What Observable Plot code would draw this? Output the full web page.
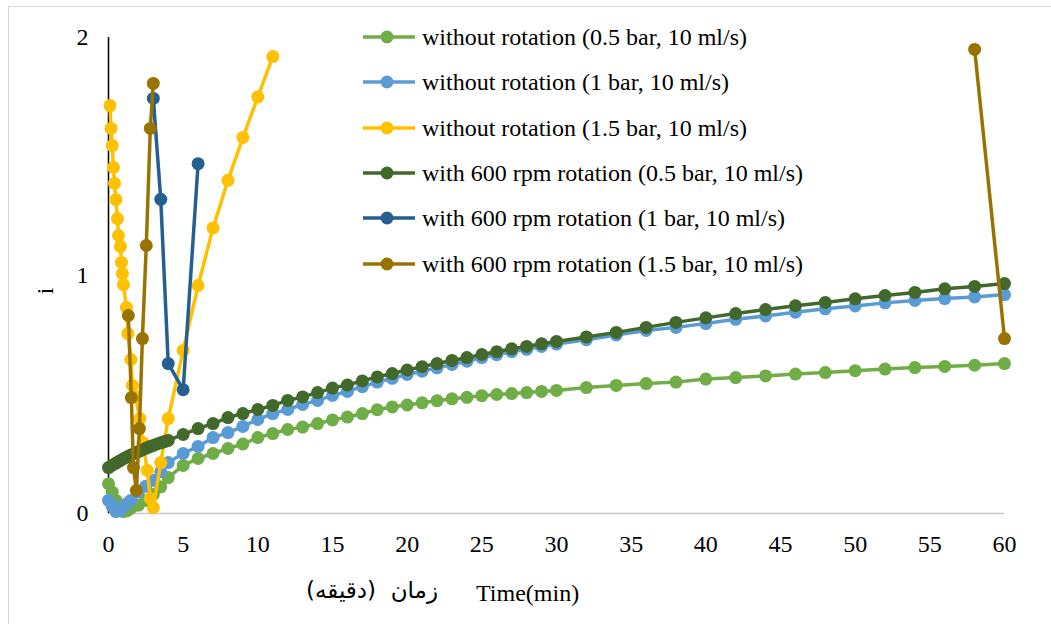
<!DOCTYPE html>
<html>
<head>
<meta charset="utf-8">
<script src="https://cdn.jsdelivr.net/npm/d3@7"></script>
<script src="https://cdn.jsdelivr.net/npm/@observablehq/plot@0.6"></script>
<style>
  html, body { margin: 0; padding: 0; background: #fff; }
  #wrap { position: relative; width: 1051px; height: 624px; overflow: hidden; font-family: "Liberation Serif", "Times New Roman", serif; color: #000; }
  #border { position: absolute; left: 8px; top: 6px; width: 1100px; height: 700px; border: 1.5px solid #d9d9d9; box-sizing: border-box; }
  #legend { position: absolute; left: 360px; top: 0; }
  .lg { position: absolute; left: 0; height: 30px; white-space: nowrap; font-size: 24px; line-height: 30px; }
  .lg svg { position: absolute; left: 0; top: 0; }
  .lg span { position: absolute; left: 62px; top: 0; }
  .lbl { position: absolute; white-space: nowrap; font-size: 24px; line-height: 30px; }
</style>
</head>
<body>
<div id="wrap">
  <div id="border"></div>
  <div id="chart"></div>
  <div id="legend"></div>
  <div class="lbl" style="left:476px; top:578px;">Time(min)</div>
  <div class="lbl" style="left:296px; top:575px; direction:rtl; unicode-bidi:isolate; font-family:'DejaVu Sans', sans-serif; font-size:23px; width:152px; text-align:center;">زمان&nbsp;&nbsp;(دقیقه)</div>
  <div class="lbl" style="left:30px; top:276px; transform: rotate(-90deg); transform-origin: 50% 50%; width:30px; text-align:center;">i</div>
</div>
<script>
// ---- Data ----
const seriesNames = [
  "without rotation (0.5 bar, 10 ml/s)",
  "without rotation (1 bar, 10 ml/s)",
  "without rotation (1.5 bar, 10 ml/s)",
  "with 600 rpm rotation (0.5 bar, 10 ml/s)",
  "with 600 rpm rotation (1 bar, 10 ml/s)",
  "with 600 rpm rotation (1.5 bar, 10 ml/s)"
];
const seriesColors = ["#70ad47", "#5b9bd5", "#ffc000", "#43682b", "#255e91", "#997300"];

const xTicks = [0, 5, 10, 15, 20, 25, 30, 35, 40, 45, 50, 55, 60];
const yTicks = [0, 1, 2];

// without rotation 0.5 bar
const tWo05 = [0, 0.25, 0.5, 0.75, 1, 1.25, 1.5, 2, 2.5, 3, 3.5, 4, 5, 6, 7, 8, 9, 10, 11, 12, 13, 14, 15, 16, 17, 18, 19, 20, 21, 22, 23, 24, 25, 26, 27, 28, 29, 30, 32, 34, 36, 38, 40, 42, 44, 46, 48, 50, 52, 54, 56, 58, 60];
const vWo05 = [0.125, 0.09, 0.055, 0.025, 0.008, 0.012, 0.022, 0.035, 0.055, 0.08, 0.112, 0.151, 0.202, 0.231, 0.252, 0.273, 0.292, 0.319, 0.336, 0.353, 0.363, 0.378, 0.393, 0.405, 0.42, 0.436, 0.448, 0.456, 0.465, 0.474, 0.482, 0.488, 0.495, 0.5, 0.504, 0.508, 0.513, 0.517, 0.529, 0.538, 0.546, 0.552, 0.565, 0.571, 0.578, 0.586, 0.592, 0.6, 0.607, 0.613, 0.618, 0.623, 0.63];

// without rotation 1 bar
const tWo1 = [0, 0.25, 0.5, 0.75, 1, 1.25, 1.5, 2, 2.5, 3, 3.5, 4, 5, 6, 7, 8, 9, 10, 11, 12, 13, 14, 15, 16, 17, 18, 19, 20, 21, 22, 23, 24, 25, 26, 27, 28, 29, 30, 32, 34, 36, 38, 40, 42, 44, 46, 48, 50, 52, 54, 56, 58, 60];
const vWo1 = [0.055, 0.03, 0.008, 0.012, 0.03, 0.042, 0.055, 0.09, 0.115, 0.14, 0.175, 0.214, 0.252, 0.282, 0.319, 0.34, 0.366, 0.395, 0.42, 0.437, 0.458, 0.475, 0.496, 0.513, 0.533, 0.552, 0.568, 0.584, 0.598, 0.612, 0.626, 0.64, 0.655, 0.667, 0.68, 0.69, 0.702, 0.712, 0.73, 0.75, 0.769, 0.782, 0.798, 0.816, 0.83, 0.846, 0.86, 0.872, 0.885, 0.895, 0.903, 0.91, 0.92];

// without rotation 1.5 bar
const tWo15 = [0.1, 0.17, 0.25, 0.33, 0.4, 0.5, 0.6, 0.67, 0.8, 0.87, 0.93, 1, 1.2, 1.3, 1.5, 1.6, 1.8, 2.1, 2.3, 2.6, 2.8, 3, 3.5, 4, 5, 6, 7, 8, 9, 10, 11];
const vWo15 = [1.714, 1.618, 1.546, 1.454, 1.387, 1.319, 1.239, 1.168, 1.122, 1.055, 1.008, 0.962, 0.866, 0.756, 0.647, 0.538, 0.492, 0.399, 0.298, 0.181, 0.063, 0.025, 0.214, 0.399, 0.685, 0.958, 1.2, 1.4, 1.58, 1.75, 1.92];

// with 600 rpm rotation 0.5 bar
const tW05 = [0, 0.25, 0.5, 0.75, 1, 1.25, 1.5, 1.75, 2, 2.25, 2.5, 2.75, 3, 3.25, 3.5, 3.75, 4, 5, 6, 7, 8, 9, 10, 11, 12, 13, 14, 15, 16, 17, 18, 19, 20, 21, 22, 23, 24, 25, 26, 27, 28, 29, 30, 32, 34, 36, 38, 40, 42, 44, 46, 48, 50, 52, 54, 56, 58, 60];
const vW05 = [0.193, 0.203, 0.212, 0.221, 0.23, 0.238, 0.246, 0.253, 0.26, 0.267, 0.274, 0.28, 0.286, 0.292, 0.297, 0.302, 0.307, 0.332, 0.357, 0.378, 0.403, 0.42, 0.437, 0.454, 0.475, 0.49, 0.508, 0.527, 0.54, 0.557, 0.574, 0.588, 0.603, 0.617, 0.63, 0.643, 0.655, 0.668, 0.68, 0.692, 0.702, 0.713, 0.723, 0.742, 0.761, 0.782, 0.803, 0.822, 0.84, 0.857, 0.873, 0.887, 0.902, 0.916, 0.929, 0.944, 0.954, 0.966];

// with 600 rpm rotation 1 bar
const tW1 = [3, 3.5, 4, 5, 6];
const vW1 = [1.744, 1.32, 0.63, 0.52, 1.47];

// with 600 rpm rotation 1.5 bar (gap between 3 and 58 min)
const tW15 = [1.33, 1.53, 1.67, 1.87, 2.07, 2.27, 2.53, 2.8, 3, 30, 58, 60];
const vW15 = [0.832, 0.487, 0.193, 0.097, 0.357, 0.735, 1.126, 1.618, 1.807, null, 1.95, 0.735];

const seriesT = [tWo05, tWo1, tWo15, tW05, tW1, tW15];
const seriesV = [vWo05, vWo1, vWo15, vW05, vW1, vW15];

const rows = seriesNames.map((name, i) => seriesT[i].map((t, j) => ({s: name, t, v: seriesV[i][j]})));

const marks = [
  Plot.ruleY([0], {stroke: "#c8c8c8", strokeWidth: 1.5}),
  Plot.ruleX([0], {y1: 0, y2: 2, stroke: "#000", strokeWidth: 1.5}),
  Plot.axisX({ticks: xTicks, tickFormat: d3.format("d"), tickSize: 0, tickPadding: 21, label: null, fontSize: 24, fill: "#000"}),
  Plot.axisY({ticks: yTicks, tickFormat: d3.format("d"), tickSize: 0, tickPadding: 20, label: null, fontSize: 24, fill: "#000"})
];
rows.forEach((data, i) => {
  marks.push(Plot.line(data, {x: "t", y: "v", stroke: seriesColors[i], strokeWidth: 3.5, curve: "linear"}));
  marks.push(Plot.dot(data, {x: "t", y: "v", r: 6.5, fill: seriesColors[i], stroke: "none"}));
});

const chart = Plot.plot({
  width: 1051,
  height: 624,
  marginLeft: 108,
  marginRight: 47,
  marginTop: 37,
  marginBottom: 111,
  x: {domain: [0, 60]},
  y: {domain: [0, 2]},
  style: {fontFamily: "'Liberation Serif', 'Times New Roman', serif", fontSize: "24px", background: "transparent", color: "#000", overflow: "visible"},
  marks
});
document.getElementById("chart").appendChild(chart);

// Legend
const legendTops = [37, 82, 128, 173, 218, 264];
const legend = d3.select("#legend");
seriesNames.forEach((name, i) => {
  const row = legend.append("div").attr("class", "lg").style("top", (legendTops[i] - 15) + "px");
  const svg = row.append("svg").attr("width", 60).attr("height", 30);
  svg.append("line").attr("x1", 3).attr("x2", 55).attr("y1", 15).attr("y2", 15)
    .attr("stroke", seriesColors[i]).attr("stroke-width", 3.5);
  svg.append("circle").attr("cx", 27).attr("cy", 15).attr("r", 6.5).attr("fill", seriesColors[i]);
  row.append("span").text(name);
});
</script>
</body>
</html>
